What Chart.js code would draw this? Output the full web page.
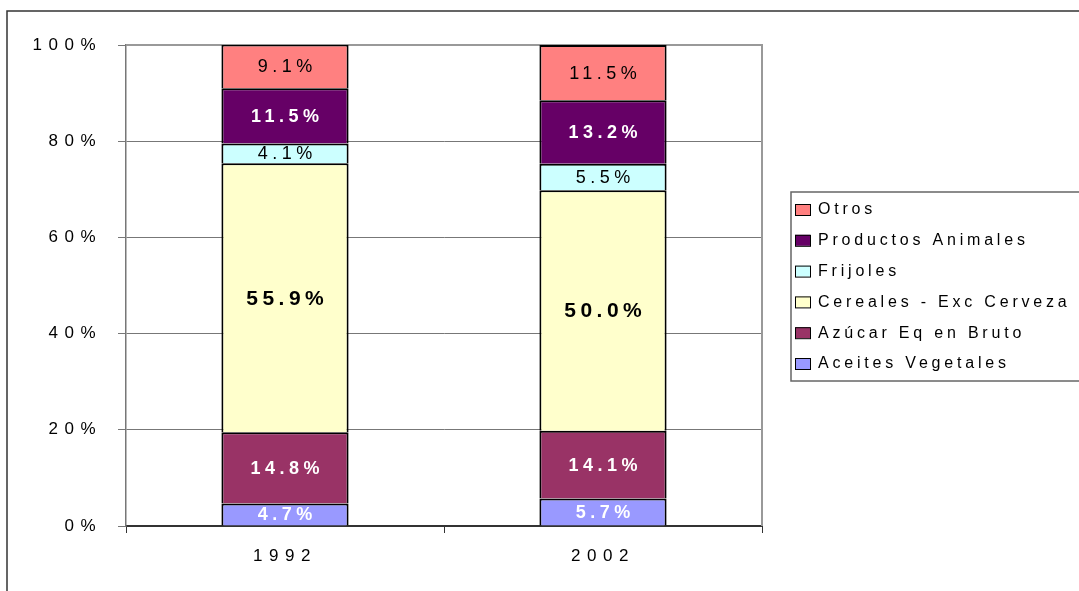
<!DOCTYPE html>
<html>
<head>
<meta charset="utf-8">
<script src="https://cdn.jsdelivr.net/npm/chart.js@4.4.1/dist/chart.umd.min.js"></script>
<style>
  body { margin: 0; background: #fff; }
  canvas { display: block; }
</style>
</head>
<body>
<canvas id="myChart" width="1079" height="591"></canvas>
<script>
const YEARS = ['1992', '2002'];
const SERIES_NAMES = ['Aceites Vegetales', 'Azúcar Eq en Bruto', 'Cereales - Exc Cerveza', 'Frijoles', 'Productos Animales', 'Otros'];
const ACEITES = [4.7, 5.7];
const AZUCAR = [14.8, 14.1];
const CEREALES = [55.9, 50.0];
const FRIJOLES = [4.1, 5.5];
const ANIMALES = [11.5, 13.2];
const OTROS = [9.1, 11.5];
const Y_TICKS = [0, 20, 40, 60, 80, 100];

const COLORS = ['#9999FF', '#993366', '#FFFFCC', '#CCFFFF', '#660066', '#FF8080'];
// label look per series: colour, bold, size
const LABEL_STYLE = [
    { color: '#fff', bold: true, size: 18 },
    { color: '#fff', bold: true, size: 18 },
    { color: '#000', bold: true, size: 21 },
    { color: '#000', bold: false, size: 18 },
    { color: '#fff', bold: true, size: 18 },
    { color: '#000', bold: false, size: 18 }
];
const FONT = "'Liberation Sans', Arial, sans-serif";

const frameAndSpacing = {
    id: 'frameAndSpacing',
    beforeDraw(chart) {
        const ctx = chart.ctx;
        ctx.save();
        ctx.strokeStyle = '#333';
        ctx.lineWidth = 1.5;
        ctx.strokeRect(7, 11, 2000, 2000);
        ctx.restore();
        ctx.letterSpacing = '6.5px';
    },
    beforeDatasetsDraw(chart) {
        const ctx = chart.ctx;
        const a = chart.chartArea;
        ctx.save();
        ctx.strokeStyle = '#999';
        ctx.lineWidth = 2;
        ctx.beginPath();
        ctx.moveTo(a.left, a.top);
        ctx.lineTo(a.right, a.top);
        ctx.lineTo(a.right, a.bottom);
        ctx.stroke();
        ctx.restore();
    }
};

const barLabels = {
    id: 'barLabels',
    afterDatasetsDraw(chart) {
        const ctx = chart.ctx;
        chart.data.datasets.forEach((ds, i) => {
            const st = LABEL_STYLE[i];
            const ls = 4.5;
            chart.getDatasetMeta(i).data.forEach((bar, j) => {
                ctx.save();
                ctx.font = (st.bold ? 'bold ' : '') + st.size + 'px ' + FONT;
                ctx.letterSpacing = ls + 'px';
                ctx.fillStyle = st.color;
                ctx.textAlign = 'center';
                ctx.textBaseline = 'middle';
                ctx.fillText(ds.data[j].toFixed(1) + '%', bar.x + ls / 2, (bar.y + bar.base) / 2 + 1);
                ctx.restore();
            });
        });
    }
};

const boxLegend = {
    id: 'boxLegend',
    afterDraw(chart) {
        const ctx = chart.ctx;
        const left = 791, top = 192, bottom = 381;
        ctx.save();
        ctx.strokeStyle = '#666';
        ctx.lineWidth = 1.5;
        ctx.strokeRect(left, top, 400, bottom - top);
        ctx.font = '16px ' + FONT;
        ctx.letterSpacing = '3.8px';
        ctx.textBaseline = 'middle';
        ctx.textAlign = 'left';
        const items = chart.data.datasets.slice().reverse();
        items.forEach((ds, k) => {
            const cy = 209 + k * 30.8;
            ctx.fillStyle = ds.backgroundColor;
            ctx.fillRect(795, cy - 5, 15, 11);
            ctx.strokeStyle = '#000';
            ctx.lineWidth = 1;
            ctx.strokeRect(795.5, cy - 4.5, 15, 11);
            ctx.fillStyle = '#000';
            ctx.fillText(ds.label, 818, cy + 1);
        });
        ctx.restore();
    }
};

function initChart() {
    const ctx = document.getElementById('myChart').getContext('2d');
    const values = [ACEITES, AZUCAR, CEREALES, FRIJOLES, ANIMALES, OTROS];
    const datasets = SERIES_NAMES.map((name, i) => ({
        label: name,
        data: values[i],
        backgroundColor: COLORS[i],
        borderColor: '#000',
        borderWidth: 2,
        categoryPercentage: 1,
        barPercentage: 0.4
    }));

    new Chart(ctx, {
        type: 'bar',
        data: { labels: YEARS, datasets: datasets },
        plugins: [frameAndSpacing, barLabels, boxLegend],
        options: {
            responsive: false,
            animation: false,
            devicePixelRatio: 1,
            layout: { padding: { left: 0, top: 45, right: 317, bottom: 0 } },
            plugins: {
                legend: { display: false },
                tooltip: { enabled: false }
            },
            scales: {
                x: {
                    stacked: true,
                    afterFit: function(scale) { scale.height = 65; },
                    grid: {
                        offset: true,
                        drawOnChartArea: false,
                        drawTicks: true,
                        tickLength: 7,
                        color: '#333'
                    },
                    border: { color: '#333', width: 2 },
                    ticks: {
                        color: '#000',
                        padding: 13,
                        font: { family: FONT, size: 17 }
                    }
                },
                y: {
                    stacked: true,
                    min: 0,
                    max: 100,
                    afterFit: function(scale) { scale.width = 126; },
                    afterBuildTicks: function(scale) {
                        scale.ticks = Y_TICKS.map(v => ({ value: v }));
                    },
                    grid: {
                        color: '#777',
                        lineWidth: 1,
                        tickLength: 8
                    },
                    border: { color: '#777', width: 1.5 },
                    ticks: {
                        color: '#000',
                        padding: 16,
                        font: { family: FONT, size: 17 },
                        callback: function(v) { return v + '%'; }
                    }
                }
            }
        }
    });
}

document.addEventListener('DOMContentLoaded', initChart);
</script>
</body>
</html>
